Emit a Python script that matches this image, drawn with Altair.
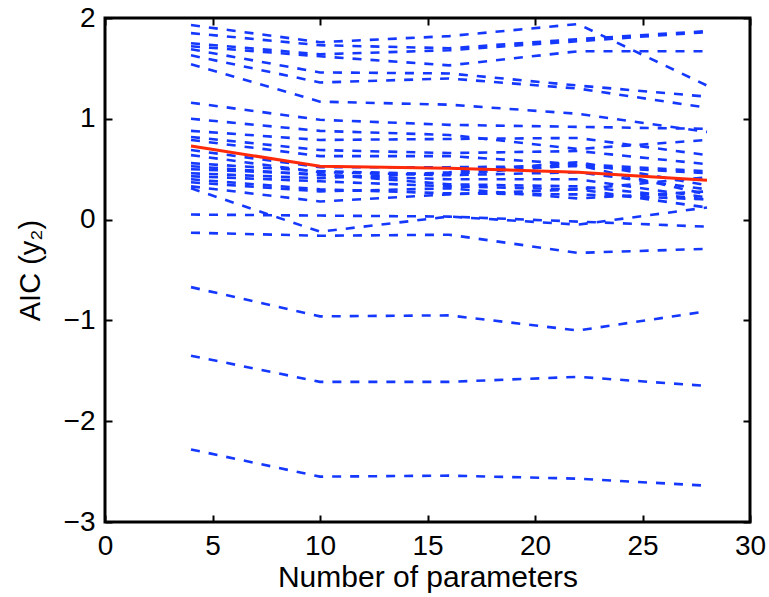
import altair as alt
import pandas as pd

# ---- data ----
x_params = [4, 10, 16, 22, 28]

blue_series = [
    [1.93, 1.76, 1.82, 1.94, 1.33],
    [1.85, 1.73, 1.70, 1.79, 1.87],
    [1.75, 1.64, 1.68, 1.77, 1.86],
    [1.72, 1.62, 1.53, 1.67, 1.67],
    [1.69, 1.46, 1.45, 1.33, 1.22],
    [1.63, 1.36, 1.40, 1.30, 1.11],
    [1.54, 1.17, 1.14, 1.05, 0.87],
    [1.16, 0.99, 0.94, 0.92, 0.90],
    [1.00, 0.88, 0.84, 0.70, 0.79],
    [0.88, 0.79, 0.80, 0.81, 0.64],
    [0.82, 0.69, 0.66, 0.68, 0.55],
    [0.79, 0.63, 0.63, 0.55, 0.48],
    [0.69, 0.52, 0.52, 0.53, 0.46],
    [0.64, 0.47, 0.44, 0.47, 0.30],
    [0.56, 0.48, 0.45, 0.54, 0.25],
    [0.53, 0.44, 0.40, 0.40, 0.22],
    [0.50, 0.45, 0.35, 0.33, 0.20],
    [0.46, 0.41, 0.47, 0.57, 0.34],
    [0.43, 0.38, 0.33, 0.30, 0.12],
    [0.40, 0.30, 0.26, 0.25, 0.20],
    [0.37, 0.28, 0.31, 0.21, 0.28],
    [0.33, 0.18, 0.25, 0.30, 0.42],
    [0.31, -0.12, 0.03, -0.05, 0.12],
    [0.05, 0.04, 0.03, -0.02, -0.07],
    [-0.13, -0.16, -0.15, -0.33, -0.29],
    [-0.67, -0.96, -0.95, -1.10, -0.91],
    [-1.35, -1.61, -1.61, -1.56, -1.65],
    [-2.28, -2.55, -2.54, -2.57, -2.64],
]

red_series = [0.73, 0.53, 0.51, 0.47, 0.39]

x_ticks = [0, 5, 10, 15, 20, 25, 30]
y_ticks = [-3, -2, -1, 0, 1, 2]

x_title = "Number of parameters"
y_title = "AIC (y\u2082)"

# ---- tables ----
rows = []
for i, s in enumerate(blue_series):
    for xv, yv in zip(x_params, s):
        rows.append({"run": i, "params": xv, "aic": yv})
blue_df = pd.DataFrame(rows)
red_df = pd.DataFrame({"params": x_params, "aic": red_series})

FONT = "Liberation Sans"
BLUE = "#1538ff"
RED = "#ff2a0a"
FS = 28

xscale = alt.Scale(domain=[0, 30], nice=False, zero=False)
yscale = alt.Scale(domain=[-3, 2], nice=False, zero=False)

common = dict(offset=-7, tickSize=7, tickWidth=2, tickColor="black",
              domain=False, grid=False, labelFont=FONT, labelFontSize=FS,
              labelColor="black", titleFont=FONT,
              titleColor="black", titleFontWeight="normal", labelFlush=False)

x_bottom = alt.Axis(orient="bottom", values=x_ticks, title=x_title,
                    labelPadding=10, titlePadding=2, titleFontSize=30, **common)
x_top = alt.Axis(orient="top", values=x_ticks, labels=False, title=None, **common)
y_left = alt.Axis(orient="left", values=y_ticks, title=y_title,
                  labelPadding=10, titlePadding=18, titleFontSize=29, **common)
y_right = alt.Axis(orient="right", values=y_ticks, labels=False, title=None, **common)

blue = alt.Chart(blue_df).mark_line(
    color=BLUE, strokeWidth=2.6, strokeDash=[9, 9]
).encode(
    x=alt.X("params:Q", scale=xscale, axis=x_bottom),
    y=alt.Y("aic:Q", scale=yscale, axis=y_left),
    detail="run:N",
)

red = alt.Chart(red_df).mark_line(color=RED, strokeWidth=3).encode(
    x=alt.X("params:Q", scale=xscale, axis=x_top),
    y=alt.Y("aic:Q", scale=yscale, axis=y_right),
)

chart = alt.layer(blue, red).resolve_axis(
    x="independent", y="independent"
).properties(
    width=645,
    height=504,
    autosize=alt.AutoSizeParams(type="none"),
    padding={"left": 105, "top": 18, "right": 19, "bottom": 75},
    background="white",
).configure_view(stroke="black", strokeWidth=3)

chart.save("out.html", embed_options={"renderer": "svg", "actions": False})
